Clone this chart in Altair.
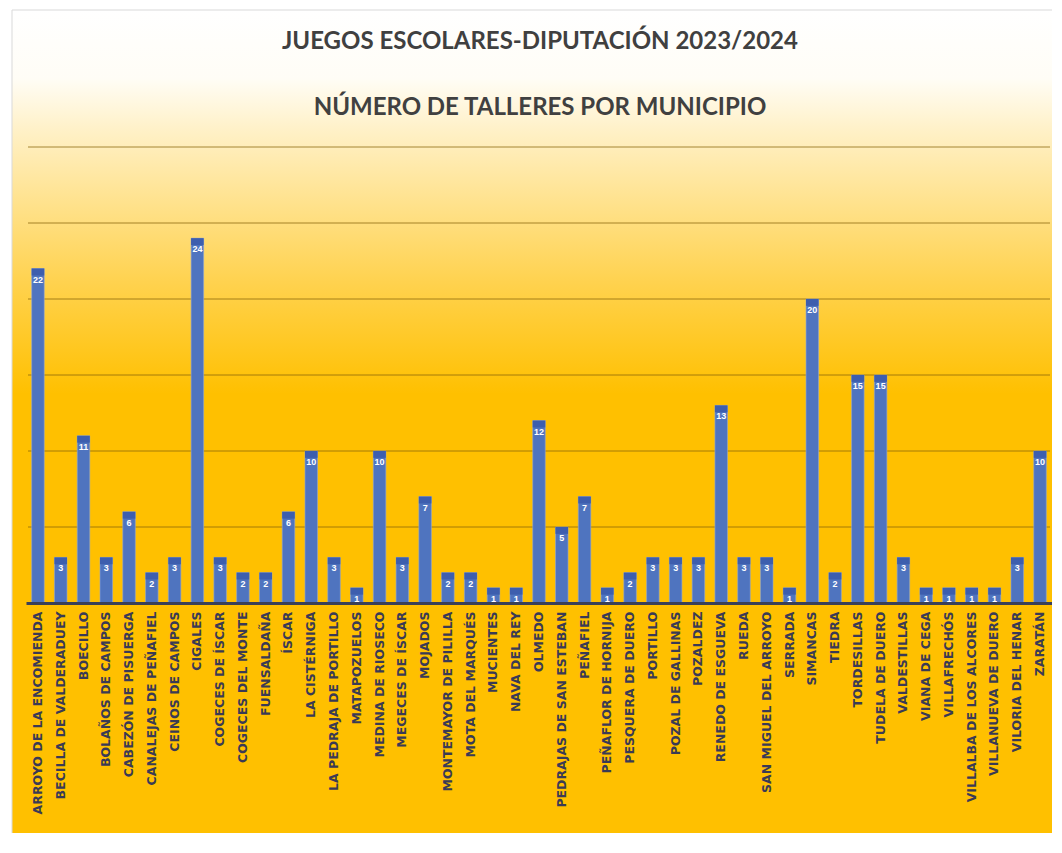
import altair as alt
import pandas as pd

titulo = "JUEGOS ESCOLARES-DIPUTACIÓN 2023/2024"
subtitulo = "NÚMERO DE TALLERES POR MUNICIPIO"

municipios = [
    "ARROYO DE LA ENCOMIENDA", "BECILLA DE VALDERADUEY", "BOECILLO", "BOLAÑOS DE CAMPOS",
    "CABEZÓN DE PISUERGA", "CANALEJAS DE PEÑAFIEL", "CEINOS DE CAMPOS", "CIGALES",
    "COGECES DE ÍSCAR", "COGECES DEL MONTE", "FUENSALDAÑA", "ÍSCAR", "LA CISTÉRNIGA",
    "LA PEDRAJA DE PORTILLO", "MATAPOZUELOS", "MEDINA DE RIOSECO", "MEGECES DE ÍSCAR",
    "MOJADOS", "MONTEMAYOR DE PILILLA", "MOTA DEL MARQUÉS", "MUCIENTES", "NAVA DEL REY",
    "OLMEDO", "PEDRAJAS DE SAN ESTEBAN", "PEÑAFIEL", "PEÑAFLOR DE HORNIJA",
    "PESQUERA DE DUERO", "PORTILLO", "POZAL DE GALLINAS", "POZALDEZ", "RENEDO DE ESGUEVA",
    "RUEDA", "SAN MIGUEL DEL ARROYO", "SERRADA", "SIMANCAS", "TIEDRA", "TORDESILLAS",
    "TUDELA DE DUERO", "VALDESTILLAS", "VIANA DE CEGA", "VILLAFRECHÓS",
    "VILLALBA DE LOS ALCORES", "VILLANUEVA DE DUERO", "VILORIA DEL HENAR", "ZARATÁN",
]
talleres = [
    22, 3, 11, 3, 6, 2, 3, 24, 3, 2, 2, 6, 10, 3, 1, 10, 3, 7, 2, 2, 1, 1,
    12, 5, 7, 1, 2, 3, 3, 3, 13, 3, 3, 1, 20, 2, 15, 15, 3, 1, 1, 1, 1, 3, 10,
]
grid_values = [5, 10, 15, 20, 25, 30]

df = pd.DataFrame({"municipio": municipios, "talleres": talleres})
grid_df = pd.DataFrame({"v": grid_values})
title_df = pd.DataFrame({"t": [titulo]})
subtitle_df = pd.DataFrame({"t": [subtitulo]})

W, H = 1026, 456

xenc = alt.X(
    "municipio:N", sort=None,
    scale=alt.Scale(paddingInner=0.45, paddingOuter=0.25),
    axis=alt.Axis(
        title=None, labelAngle=-90, ticks=False, labelPadding=8,
        labelFont="DejaVu Sans", labelFontSize=12.5, labelFontWeight="bold",
        labelColor="#3A3A55", domainColor="#3A4058", domainWidth=3, zindex=1,
        labelLimit=300,
    ),
)
yscale = alt.Scale(domain=[0, 30], nice=False)

background = alt.Chart(pd.DataFrame({"a": [0]})).mark_rect(
    color=alt.Gradient(
        gradient="linear", x1=0, x2=0, y1=0, y2=1,
        stops=[
            alt.GradientStop(offset=0.0, color="#FFFFFF"),
            alt.GradientStop(offset=0.08, color="#FFFDF6"),
            alt.GradientStop(offset=0.14, color="#FFF1C8"),
            alt.GradientStop(offset=0.22, color="#FFE391"),
            alt.GradientStop(offset=0.32, color="#FFD24E"),
            alt.GradientStop(offset=0.45, color="#FFC000"),
            alt.GradientStop(offset=1.0, color="#FFC000"),
        ],
    ),
    stroke="#D9D9D9", strokeWidth=1,
).encode(
    x=alt.value(-14), x2=alt.value(W + 30),
    y=alt.value(-137), y2=alt.value(H + 260),
)

grid = alt.Chart(grid_df).mark_rule(color="#86640A", strokeWidth=1, opacity=0.75).encode(
    y=alt.Y("v:Q", scale=yscale, axis=None),
    x=alt.value(2), x2=alt.value(W - 2),
)

bars = alt.Chart(df).mark_bar(color="#4F74BF", stroke="#8FA6D8", strokeWidth=0.6).encode(
    x=xenc,
    y=alt.Y("talleres:Q", scale=yscale, axis=None),
)

caps = alt.Chart(df).transform_calculate(
    low="max(datum.talleres - 0.45, 0)"
).mark_bar(color="#3D5EAE").encode(
    x=alt.X("municipio:N", sort=None),
    y=alt.Y("talleres:Q", scale=yscale),
    y2="low:Q",
)

labels = alt.Chart(df).mark_text(
    color="white", fontSize=9, fontWeight="bold", font="Liberation Sans",
    baseline="middle", dy=11,
).encode(
    x=alt.X("municipio:N", sort=None),
    y=alt.Y("talleres:Q", scale=yscale),
    text="talleres:Q",
)

title_mark = alt.Chart(title_df).mark_text(
    font="Lato", fontSize=24, fontWeight="bold", color="#404040",
    align="center", baseline="middle",
).encode(x=alt.value(W / 2 + 1), y=alt.value(-105), text="t:N")

subtitle_mark = alt.Chart(subtitle_df).mark_text(
    font="Lato", fontSize=24, fontWeight="bold", color="#404040",
    align="center", baseline="middle",
).encode(x=alt.value(W / 2 + 1), y=alt.value(-39), text="t:N")

chart = alt.layer(
    background, grid, bars, caps, labels, title_mark, subtitle_mark
).properties(
    width=W, height=H,
    autosize=alt.AutoSizeParams(type="none"),
    padding={"left": 18, "top": 139, "right": 0, "bottom": 230},
    background="white",
).configure_view(stroke=None)

chart.save("out.html", embed_options={"renderer": "svg", "actions": False})
